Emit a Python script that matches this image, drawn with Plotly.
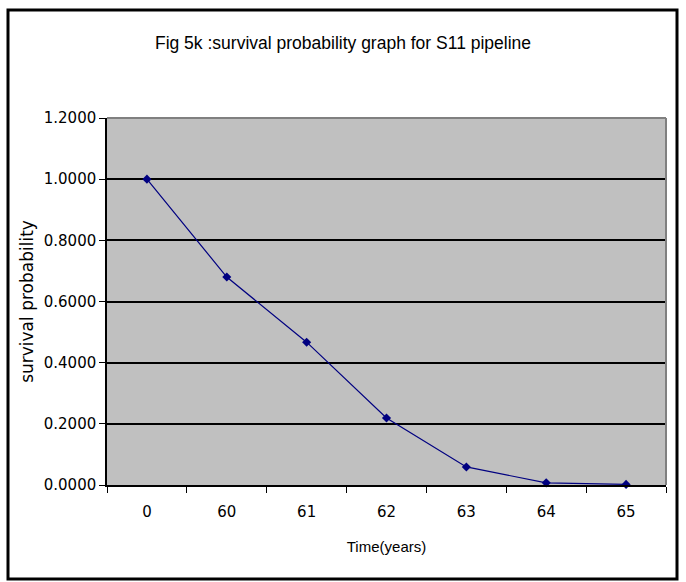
import plotly.graph_objects as go

categories = ["0", "60", "61", "62", "63", "64", "65"]
survival = [1.0, 0.68, 0.467, 0.219, 0.059, 0.007, 0.002]
y_ticks = [0.0, 0.2, 0.4, 0.6, 0.8, 1.0, 1.2]

FONT = "Liberation Sans, Arial, sans-serif"
WIDE = "DejaVu Sans, Liberation Sans, sans-serif"

fig = go.Figure()
fig.add_trace(go.Scatter(
    x=categories, y=survival, mode="lines+markers",
    line=dict(color="#000080", width=1.2),
    marker=dict(symbol="diamond", size=7, color="#000080"),
    cliponaxis=False, showlegend=False,
))

L, R, T, B = 107, 20, 118, 97
W, H = 686, 582
pw, ph = W - L - R, H - T - B

def px_x(x):
    return (x - L) / pw

def px_y(y):
    return (H - B - y) / ph

fig.update_layout(
    width=W, height=H,
    margin=dict(l=L, r=R, t=T, b=B),
    paper_bgcolor="white",
    plot_bgcolor="#C0C0C0",
    font=dict(family=FONT, color="black", size=13),
    title=dict(text="Fig 5k :survival probability graph for S11 pipeline",
               x=0.5, xanchor="center", y=1 - 43 / H, yanchor="middle",
               font=dict(size=17.5, family=FONT)),
    xaxis=dict(
        type="category", range=[-0.5, 6.5], tickson="boundaries",
        ticks="outside", ticklen=6, ticklabelstandoff=12,
        tickcolor="black", showline=True, linecolor="black", linewidth=1.5,
        showgrid=False, zeroline=False,
        title=dict(text="Time(years)", font=dict(size=15, family=FONT), standoff=22),
        tickfont=dict(size=15, family=WIDE),
    ),
    yaxis=dict(
        range=[0, 1.2], tickvals=y_ticks, tickformat=".4f",
        ticks="outside", ticklen=6, tickcolor="black",
        showline=True, linecolor="black", linewidth=1.5,
        showgrid=True, gridcolor="black", gridwidth=1.8, zeroline=False,
        title=dict(text="survival probability", font=dict(size=17, family=WIDE), standoff=6),
        tickfont=dict(size=15, family=WIDE),
    ),
    shapes=[
        dict(type="line", xref="paper", yref="paper", x0=0, x1=1, y0=1, y1=1,
             line=dict(color="#808080", width=2), layer="above"),
        dict(type="line", xref="paper", yref="paper", x0=1, x1=1, y0=0, y1=1,
             line=dict(color="#808080", width=2), layer="above"),
        dict(type="rect", xref="paper", yref="paper",
             x0=px_x(8), x1=px_x(677), y0=px_y(579), y1=px_y(10),
             line=dict(color="black", width=3), layer="above"),
    ],
)

fig.write_html("out.html")
